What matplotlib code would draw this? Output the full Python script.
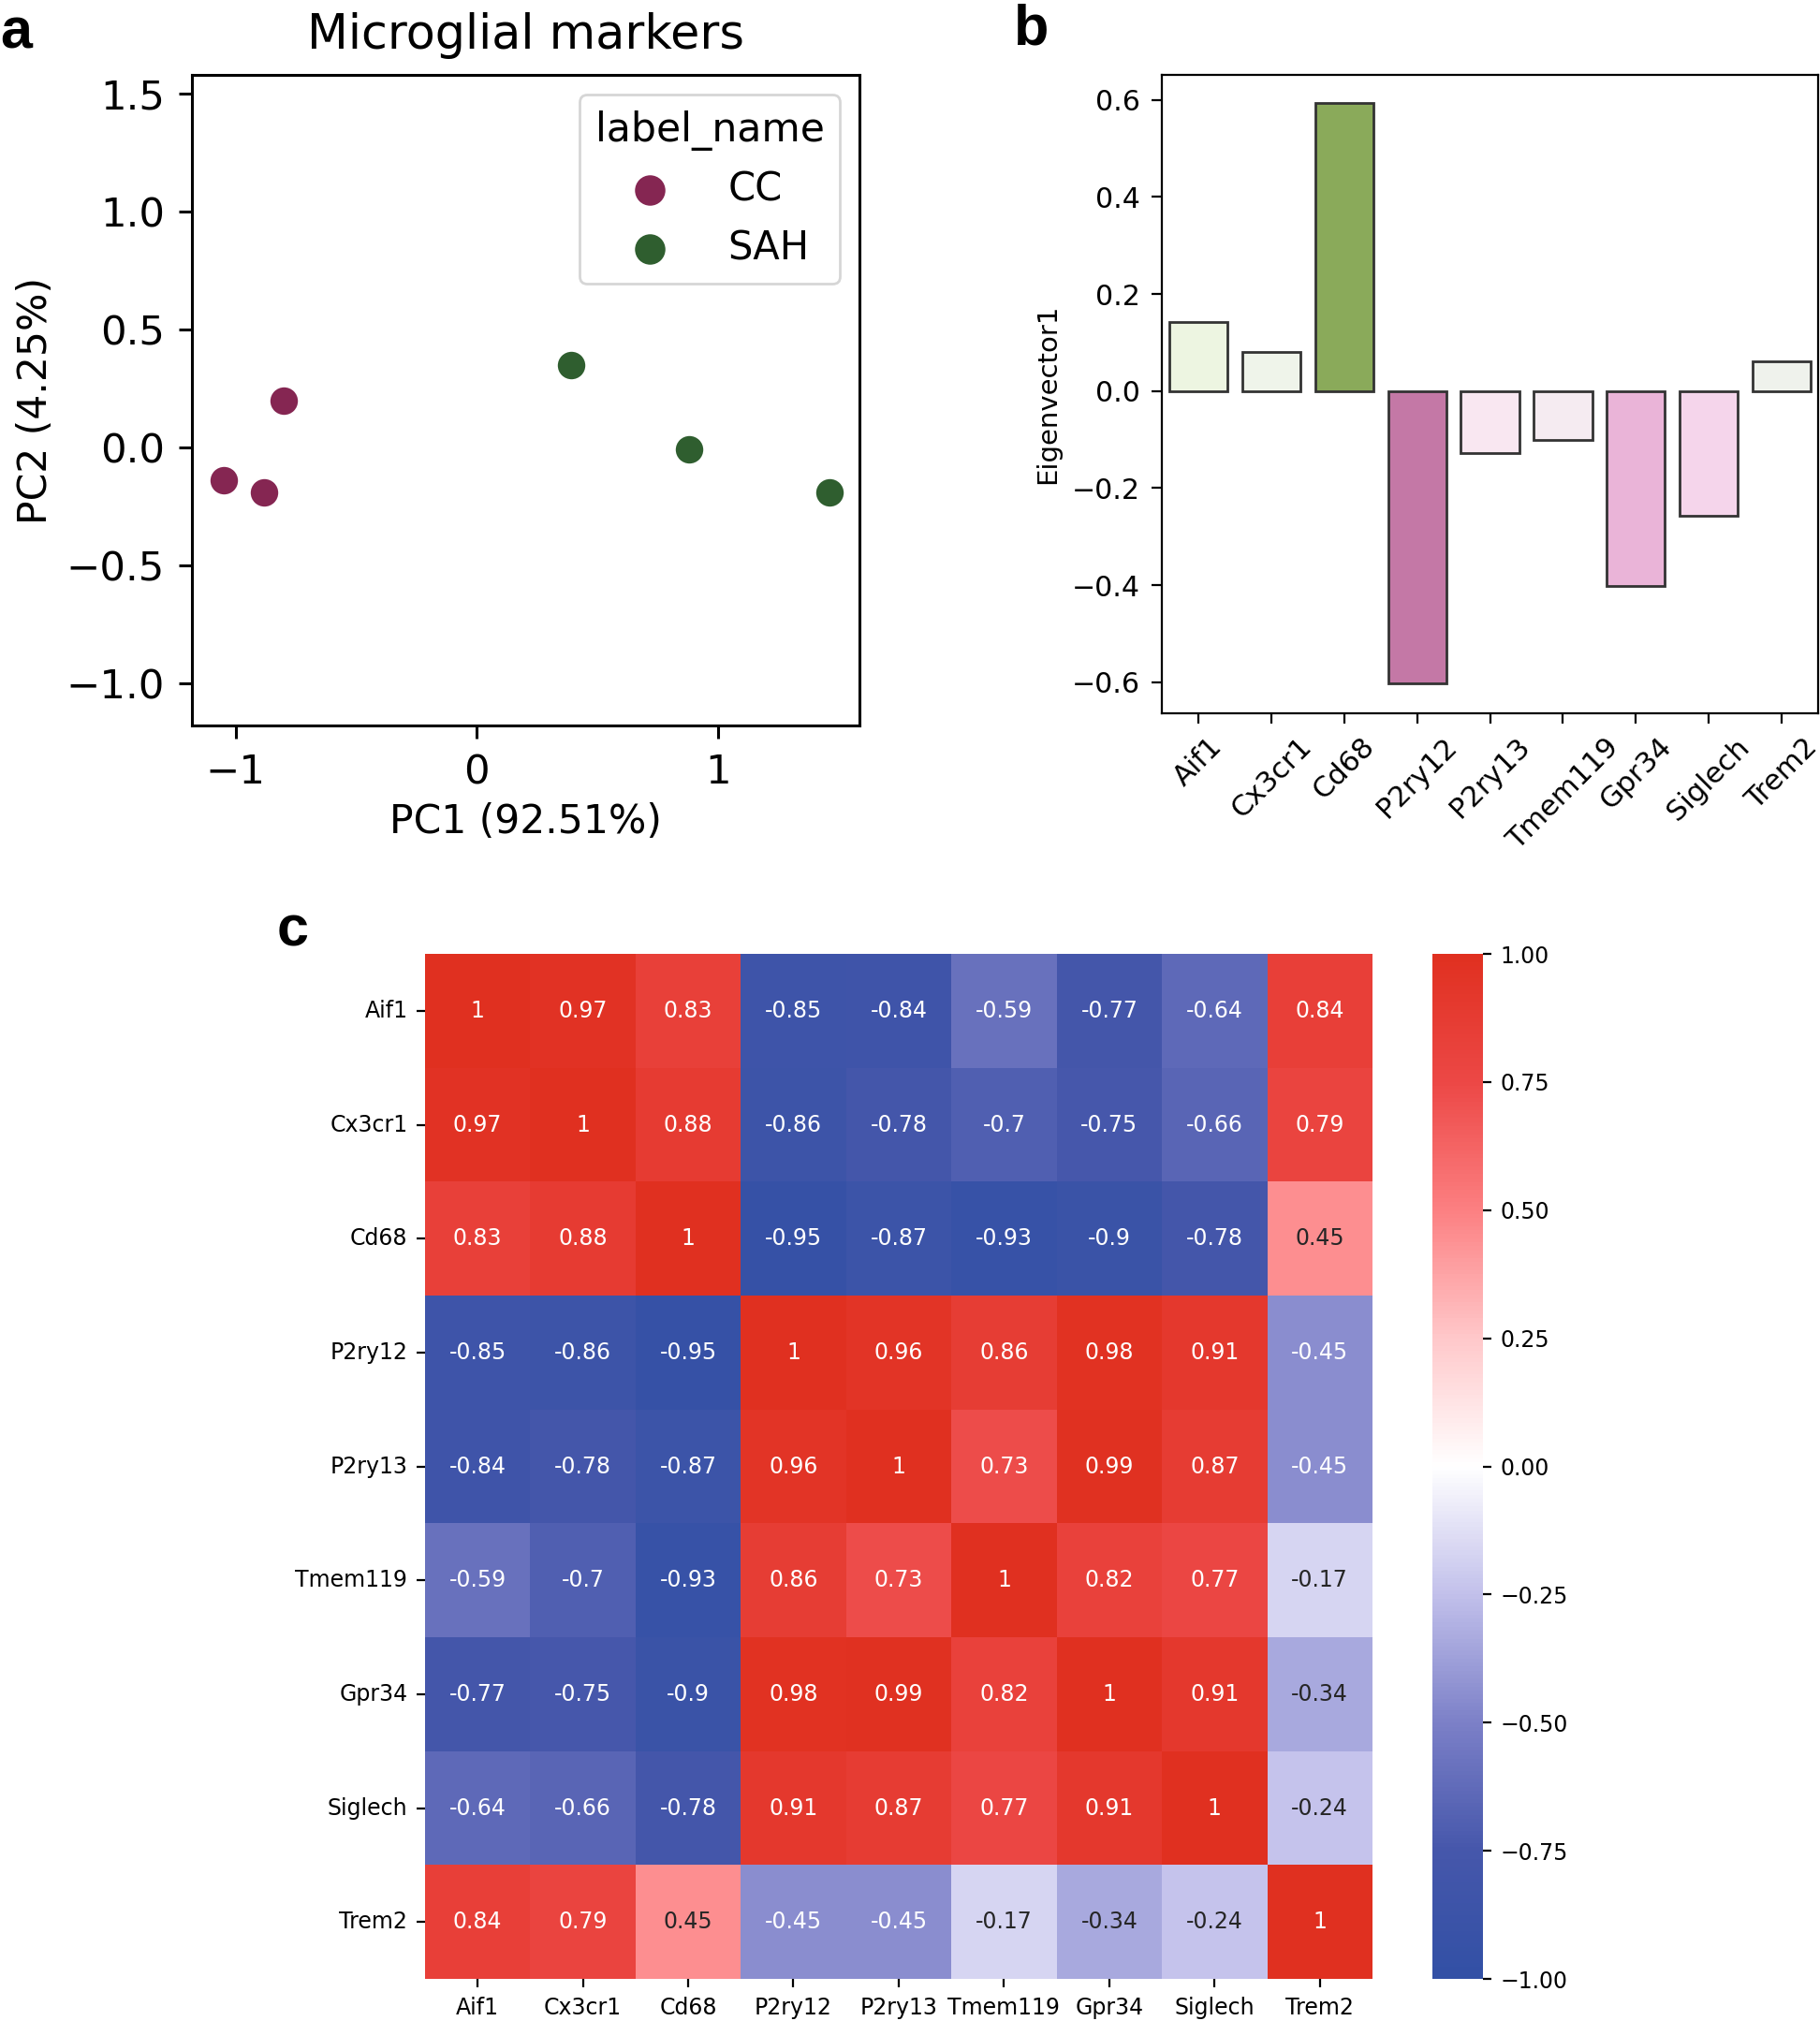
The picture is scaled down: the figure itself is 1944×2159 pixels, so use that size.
import matplotlib
matplotlib.use("Agg")
import matplotlib.pyplot as plt
import numpy as np
import seaborn as sns
from matplotlib.colors import LinearSegmentedColormap

# дані для панелі a (PCA)
groups = ['CC', 'SAH']
pc1_cc = [-1.05, -0.88, -0.80]
pc2_cc = [-0.14, -0.19, 0.20]
pc1_sah = [0.39, 0.88, 1.46]
pc2_sah = [0.35, -0.01, -0.19]

# дані для панелі b (власний вектор)
genes = ['Aif1', 'Cx3cr1', 'Cd68', 'P2ry12', 'P2ry13', 'Tmem119', 'Gpr34', 'Siglech', 'Trem2']
eigenvector1 = [0.142, 0.081, 0.594, -0.602, -0.128, -0.100, -0.401, -0.257, 0.061]

# дані для панелі c (кореляції)
corr = [
    [1, 0.97, 0.83, -0.85, -0.84, -0.59, -0.77, -0.64, 0.84],
    [0.97, 1, 0.88, -0.86, -0.78, -0.7, -0.75, -0.66, 0.79],
    [0.83, 0.88, 1, -0.95, -0.87, -0.93, -0.9, -0.78, 0.45],
    [-0.85, -0.86, -0.95, 1, 0.96, 0.86, 0.98, 0.91, -0.45],
    [-0.84, -0.78, -0.87, 0.96, 1, 0.73, 0.99, 0.87, -0.45],
    [-0.59, -0.7, -0.93, 0.86, 0.73, 1, 0.82, 0.77, -0.17],
    [-0.77, -0.75, -0.9, 0.98, 0.99, 0.82, 1, 0.91, -0.34],
    [-0.64, -0.66, -0.78, 0.91, 0.87, 0.77, 0.91, 1, -0.24],
    [0.84, 0.79, 0.45, -0.45, -0.45, -0.17, -0.34, -0.24, 1],
]

# кольори
group_colors = ['#852652', '#2F5E2F']
bar_colors = ['#EDF5E1', '#EFF4EA', '#8AAA5A', '#C478A6', '#F9E7F1',
              '#F5EBF1', '#EAB4D8', '#F5D5EB', '#EFF2EC']
cmap = LinearSegmentedColormap.from_list('bwr_custom', [
    '#3250A5', '#4657AB', '#7C80C8', '#C2C0EB', '#FFFFFF',
    '#FFC8CA', '#FC8082', '#EC4846', '#E03020'])

plt.rcParams['font.family'] = 'DejaVu Sans'

fig = plt.figure(figsize=(9.72, 10.795), dpi=200)

# ---- панель a ----
ax_a = fig.add_axes([0.1055, 0.641, 0.3668, 0.3219])
ax_a.scatter(pc1_cc, pc2_cc, s=125, color=group_colors[0], edgecolor='white',
             linewidth=0.6, label=groups[0], zorder=3)
ax_a.scatter(pc1_sah, pc2_sah, s=125, color=group_colors[1], edgecolor='white',
             linewidth=0.6, label=groups[1], zorder=3)
ax_a.set_xlim(-1.18, 1.585)
ax_a.set_ylim(-1.18, 1.58)
ax_a.set_xticks([-1, 0, 1])
ax_a.set_yticks([-1.0, -0.5, 0.0, 0.5, 1.0, 1.5])
ax_a.set_title("Microglial markers", fontsize=18.3, pad=10)
ax_a.set_xlabel("PC1 (92.51%)", fontsize=15.3)
ax_a.set_ylabel("PC2 (4.25%)", fontsize=15.3)
ax_a.tick_params(labelsize=15.6, length=5, width=1.1, pad=5.5)
for sp in ax_a.spines.values():
    sp.set_linewidth(1.1)
ax_a.legend(title='label_name', fontsize=15, title_fontsize=15.3,
            loc='upper right', handletextpad=1.0, markerscale=1.1)

# ---- панель b ----
ax_b = fig.add_axes([0.6384, 0.647, 0.3606, 0.3159])
x = np.arange(len(genes))
ax_b.bar(x, eigenvector1, width=0.8, color=bar_colors, edgecolor='#333333', linewidth=1.0)
ax_b.set_xlim(-0.5, 8.5)
ax_b.set_ylim(-0.664, 0.651)
ax_b.set_yticks([-0.6, -0.4, -0.2, 0.0, 0.2, 0.4, 0.6])
ax_b.set_xticks(x)
ax_b.set_xticklabels(genes, rotation=45, ha='center', fontsize=11)
ax_b.set_ylabel("Eigenvector1", fontsize=10.5)
ax_b.tick_params(axis='y', labelsize=10.8, length=4, pad=4.5)
ax_b.tick_params(axis='x', length=4)

# ---- панель c ----
ax_c = fig.add_axes([0.2335, 0.0208, 0.5206, 0.5072])
cax = fig.add_axes([0.787, 0.0208, 0.0278, 0.5072])
sns.heatmap(np.array(corr), ax=ax_c, cbar_ax=cax, cmap=cmap, vmin=-1, vmax=1,
            annot=True, annot_kws={'fontsize': 8.5},
            xticklabels=genes, yticklabels=genes)
ax_c.set_xticklabels(genes, rotation=0, fontsize=8.5)
ax_c.set_yticklabels(genes, rotation=0, fontsize=8.5)
ax_c.tick_params(length=3.2)
cax.set_yticks([-1, -0.75, -0.5, -0.25, 0, 0.25, 0.5, 0.75, 1])
cax.tick_params(labelsize=8.5, length=3.2)

# підписи панелей
fig.text(0.0, 0.976, 'a', fontsize=22, fontweight='bold', family='Liberation Sans')
fig.text(0.557, 0.978, 'b', fontsize=22, fontweight='bold', family='Liberation Sans')
fig.text(0.152, 0.532, 'c', fontsize=22, fontweight='bold', family='Liberation Sans')

fig.savefig('out.png', dpi=200)
